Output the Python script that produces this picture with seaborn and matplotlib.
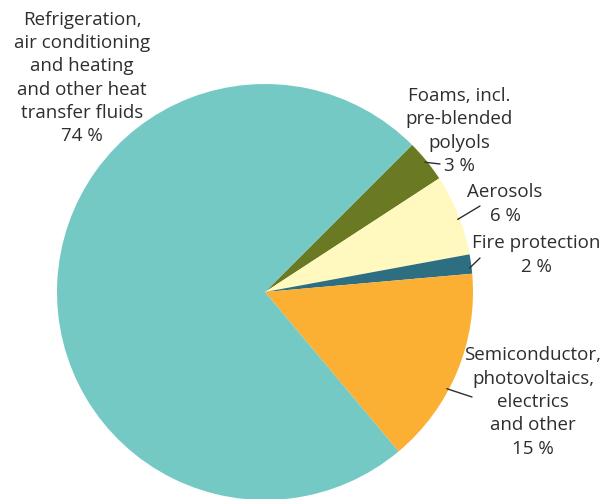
import matplotlib
matplotlib.use("Agg")
import matplotlib.pyplot as plt
import numpy as np
import seaborn as sns

# shares (clockwise from the top-right)
categories = ["Foams, incl.\npre-blended\npolyols",
              "Aerosols",
              "Fire protection",
              "Semiconductor,\nphotovoltaics,\nelectrics\nand other",
              "Refrigeration,\nair conditioning\nand heating\nand other heat\ntransfer fluids"]
shares = [3.3, 6.3, 1.5, 15.3, 73.6]
pct_labels = ["3 %", "6 %", "2 %", "15 %", "74 %"]

colors = ["#6A7A22", "#FFF8BF", "#2D6E80", "#FBB033", "#74C9C5"]

sns.set_theme(style="white")
plt.rcParams['font.family'] = ['Open Sans', 'DejaVu Sans']

fig = plt.figure(figsize=(6.14, 4.99), dpi=100)
ax = fig.add_axes([0, 0, 1, 1])

R = 208.0  # pixels per unit radius
cx, cy = 265, 292


def px(x, y):
    return (x - cx) / R, (cy - y) / R


wedges, _ = ax.pie(shares, colors=colors, startangle=45, counterclock=False,
                   radius=1.0, wedgeprops=dict(linewidth=0))

ax.set_xlim(px(0, 0)[0], px(614, 0)[0])
ax.set_ylim(px(0, 499)[1], px(0, 0)[1])
ax.set_aspect("equal")
ax.axis("off")

# label layout: text centre (px), leader end (px), fraction along wedge for leader start
layout = [
    ((459, 131), (440, 164), 0.5),
    ((505, 204), (480, 206), 0.45),
    ((536, 255), (480, 258), 0.3),
    ((533, 402), (472, 397), 0.4),
    ((82, 78), None, None),
]

text_color = "#2e2e2e"
for w, name, pct, (tpos, lend, frac) in zip(wedges, categories, pct_labels, layout):
    tx, ty = px(*tpos)
    ax.text(tx, ty, name + "\n" + pct, ha="center", va="center",
            fontsize=13.5, color=text_color, linespacing=1.38)
    if lend is not None:
        ang = np.deg2rad(w.theta1 + (w.theta2 - w.theta1) * frac)
        x0, y0 = np.cos(ang) * 0.99, np.sin(ang) * 0.99
        x1, y1 = px(*lend)
        ax.plot([x0, x1], [y0, y1], color=text_color, lw=1)

fig.savefig("out.png", dpi=100)
